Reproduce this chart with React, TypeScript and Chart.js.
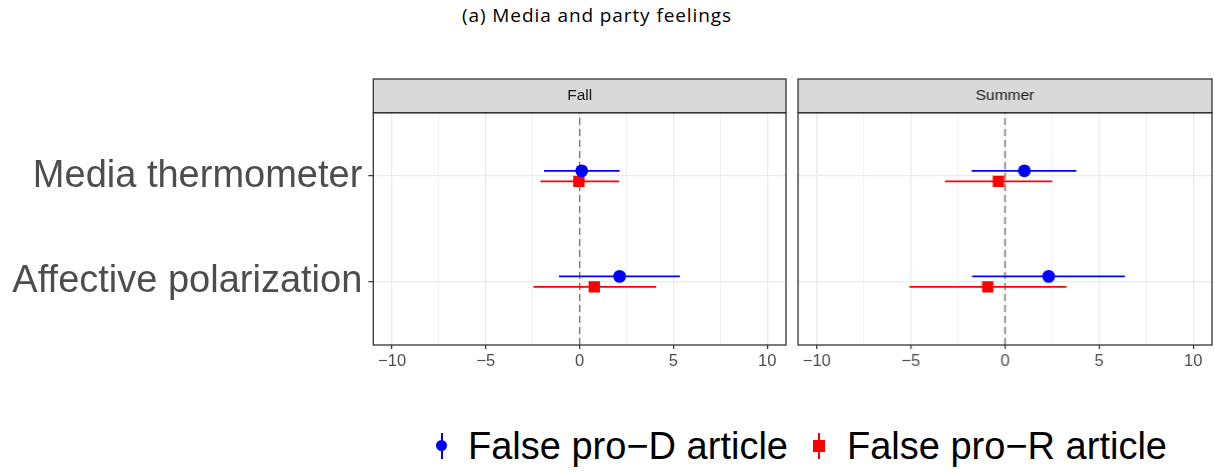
import React, { useEffect, useRef } from 'react';
import { Chart, registerables } from 'chart.js';

Chart.register(...registerables);

// ---------- data ----------
const categories = ['Media thermometer', 'Affective polarization'];
const categoryPos = [2, 1];
const xTickValues = [-10, -7.5, -5, -2.5, 0, 2.5, 5, 7.5, 10];
const referenceLine = [0];
const seriesNames = ['False pro\u2212D article', 'False pro\u2212R article'];

const fallProDEst = [0.11, 2.13];
const fallProDLow = [-1.9, -1.1];
const fallProDHigh = [2.13, 5.34];
const fallProREst = [-0.04, 0.78];
const fallProRLow = [-2.09, -2.46];
const fallProRHigh = [2.11, 4.08];

const summerProDEst = [1.03, 2.32];
const summerProDLow = [-1.77, -1.75];
const summerProDHigh = [3.79, 6.37];
const summerProREst = [-0.35, -0.92];
const summerProRLow = [-3.19, -5.08];
const summerProRHigh = [2.51, 3.26];

// ---------- style ----------
const FONT = '"Liberation Sans", Arial, Helvetica, sans-serif';
const BLUE = '#0000FF';
const RED = '#FF0000';
const DODGE = 0.05;
const X_AXIS_H = 35;
const CANVAS_H = 380;

const fmt = (v: number) => (v < 0 ? '\u2212' + Math.abs(v) : String(v));

const panelPlugin = {
  id: 'panelDecor',
  beforeDraw(chart: any) {
    const ctx = chart.ctx;
    const ca = chart.chartArea;
    const tb = chart.titleBlock;
    ctx.save();
    ctx.fillStyle = '#FFFFFF';
    ctx.fillRect(ca.left, ca.top, ca.right - ca.left, ca.bottom - ca.top);
    if (tb) {
      ctx.fillStyle = '#D9D9D9';
      ctx.fillRect(ca.left, tb.top, ca.right - ca.left, tb.bottom - tb.top);
    }
    ctx.restore();
  },
  afterDraw(chart: any) {
    const ctx = chart.ctx;
    const ca = chart.chartArea;
    const tb = chart.titleBlock;
    ctx.save();
    ctx.strokeStyle = '#333333';
    ctx.lineWidth = 1.3;
    ctx.strokeRect(ca.left, ca.top, ca.right - ca.left, ca.bottom - ca.top);
    if (tb) {
      ctx.strokeRect(ca.left, tb.top, ca.right - ca.left, tb.bottom - tb.top);
    }
    ctx.restore();
  },
};

type PanelDef = {
  name: string;
  dEst: number[];
  dLow: number[];
  dHigh: number[];
  rEst: number[];
  rLow: number[];
  rHigh: number[];
};

function buildConfig(p: PanelDef, showY: boolean, yWidth: number, rightPad: number) {
  const datasets: any[] = [];
  datasets.push({
    label: seriesNames[0],
    data: categoryPos.map((y, i) => ({ x: p.dEst[i], y: y + DODGE })),
    pointStyle: 'circle',
    pointRadius: 6.4,
    backgroundColor: BLUE,
    borderColor: BLUE,
    borderWidth: 0,
  });
  datasets.push({
    label: seriesNames[1],
    data: categoryPos.map((y, i) => ({ x: p.rEst[i], y: y - DODGE })),
    pointStyle: 'rect',
    pointRadius: 8,
    backgroundColor: RED,
    borderColor: RED,
    borderWidth: 0,
  });
  categoryPos.forEach((y, i) => {
    datasets.push({
      label: seriesNames[0] + ' CI',
      data: [
        { x: p.dLow[i], y: y + DODGE },
        { x: p.dHigh[i], y: y + DODGE },
      ],
      showLine: true,
      pointRadius: 0,
      borderColor: BLUE,
      borderWidth: 1.8,
    });
    datasets.push({
      label: seriesNames[1] + ' CI',
      data: [
        { x: p.rLow[i], y: y - DODGE },
        { x: p.rHigh[i], y: y - DODGE },
      ],
      showLine: true,
      pointRadius: 0,
      borderColor: RED,
      borderWidth: 1.8,
    });
  });
  referenceLine.forEach((v) => {
    datasets.push({
      label: 'ref',
      data: [
        { x: v, y: 0.4 },
        { x: v, y: 2.6 },
      ],
      showLine: true,
      pointRadius: 0,
      borderColor: '#7F7F7F',
      borderWidth: 1.5,
      borderDash: [7, 4],
    });
  });

  return {
    type: 'scatter',
    data: { datasets },
    plugins: [panelPlugin],
    options: {
      animation: false,
      responsive: false,
      events: [],
      layout: { padding: { top: 79, right: rightPad, left: 0, bottom: 0 } },
      plugins: {
        legend: { display: false },
        tooltip: { enabled: false },
        title: {
          display: true,
          text: p.name,
          fullSize: false,
          color: '#1A1A1A',
          font: { family: FONT, size: 15.5, weight: 'normal', lineHeight: 1.2 },
          padding: { top: 7.5, bottom: 7.6 },
        },
      },
      scales: {
        x: {
          type: 'linear',
          min: -11,
          max: 11,
          afterBuildTicks: (s: any) => {
            s.ticks = xTickValues.map((v) => ({ value: v }));
          },
          afterFit: (s: any) => {
            s.height = X_AXIS_H;
            s.paddingLeft = 0;
            s.paddingRight = 0;
          },
          border: { display: false },
          grid: {
            color: '#EBEBEB',
            lineWidth: (c: any) => (c.tick && c.tick.value % 5 === 0 ? 1.3 : 0.7),
            tickColor: (c: any) => (c.tick && c.tick.value % 5 === 0 ? '#333333' : 'rgba(0,0,0,0)'),
            tickLength: 4,
            tickWidth: 1.2,
          },
          ticks: {
            autoSkip: false,
            maxRotation: 0,
            padding: 3,
            color: '#4D4D4D',
            font: { family: FONT, size: 16.5 },
            callback: (v: any) => (Number(v) % 5 === 0 ? fmt(Number(v)) : ''),
          },
        },
        y: {
          type: 'linear',
          min: 0.4,
          max: 2.6,
          afterBuildTicks: (s: any) => {
            s.ticks = categoryPos.map((v) => ({ value: v }));
          },
          afterFit: (s: any) => {
            s.width = yWidth;
            s.paddingTop = 0;
            s.paddingBottom = 0;
          },
          border: { display: false },
          grid: {
            color: '#EBEBEB',
            lineWidth: 1.3,
            tickColor: '#333333',
            tickLength: 5,
            tickWidth: 1.2,
            drawTicks: showY,
          },
          ticks: {
            display: showY,
            autoSkip: false,
            padding: 6,
            color: '#4D4D4D',
            font: { family: FONT, size: 38 },
            callback: (v: any) => categories[categoryPos.indexOf(Number(v))],
          },
        },
      },
    },
  };
}

function Panel(props: { def: PanelDef; showY: boolean; left: number; width: number; yWidth: number; rightPad: number }) {
  const ref = useRef<HTMLCanvasElement | null>(null);
  useEffect(() => {
    if (!ref.current) return;
    const chart = new Chart(ref.current, buildConfig(props.def, props.showY, props.yWidth, props.rightPad) as any);
    return () => chart.destroy();
  }, []);
  return (
    <canvas
      ref={ref}
      width={props.width}
      height={CANVAS_H}
      style={{ position: 'absolute', left: props.left, top: 0, width: props.width, height: CANVAS_H }}
    />
  );
}

const fallDef: PanelDef = {
  name: 'Fall',
  dEst: fallProDEst,
  dLow: fallProDLow,
  dHigh: fallProDHigh,
  rEst: fallProREst,
  rLow: fallProRLow,
  rHigh: fallProRHigh,
};
const summerDef: PanelDef = {
  name: 'Summer',
  dEst: summerProDEst,
  dLow: summerProDLow,
  dHigh: summerProDHigh,
  rEst: summerProREst,
  rLow: summerProRLow,
  rHigh: summerProRHigh,
};

export default function App() {
  const legendText: React.CSSProperties = {
    position: 'absolute',
    top: 427,
    fontFamily: FONT,
    fontSize: 38,
    lineHeight: '38px',
    color: '#000000',
    whiteSpace: 'nowrap',
  };
  return (
    <div style={{ position: 'absolute', left: 0, top: 0, width: 1215, height: 472, background: '#FFFFFF', overflow: 'hidden' }}>
      <div
        style={{
          position: 'absolute',
          left: 0,
          top: 5.8,
          width: 1194,
          textAlign: 'center',
          fontFamily: '"Open Sans", Lato, sans-serif',
          fontSize: 19,
          letterSpacing: 0.9,
          lineHeight: '19px',
          color: '#000000',
          whiteSpace: 'nowrap',
        }}
      >
        (a) Media and party feelings
      </div>
      <Panel def={fallDef} showY={true} left={0} width={794} yWidth={373.3} rightPad={0} />
      <Panel def={summerDef} showY={false} left={790} width={429.7} yWidth={7.3} rightPad={0} />

      {/* legend */}
      <div style={{ position: 'absolute', left: 440.7, top: 433, width: 2, height: 26, background: BLUE }} />
      <div style={{ position: 'absolute', left: 436.2, top: 439.5, width: 11, height: 11, borderRadius: '50%', background: BLUE }} />
      <div style={{ ...legendText, left: 468 }}>{seriesNames[0]}</div>
      <div style={{ position: 'absolute', left: 818, top: 433, width: 2, height: 26, background: RED }} />
      <div style={{ position: 'absolute', left: 813.2, top: 440.2, width: 11.6, height: 11.6, background: RED }} />
      <div style={{ ...legendText, left: 847 }}>{seriesNames[1]}</div>
    </div>
  );
}
